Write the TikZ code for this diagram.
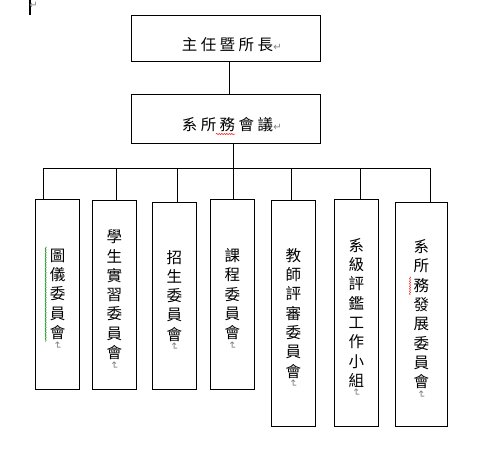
\documentclass[tikz,border=0pt]{standalone}
\usepackage{fontspec}
\newfontfamily\cjk{Noto Sans CJK TC}
\newfontfamily\cjkwide{Noto Sans CJK TC}[LetterSpace=22]
\newfontfamily\retfont{DejaVu Sans}
\usetikzlibrary{positioning, decorations.pathmorphing}

\begin{document}
\begin{tikzpicture}[
  x=1pt, y=1pt,
  unit/.style={
    rectangle,
    draw,
    line width=0.9pt,
    minimum width=#1,
    inner sep=0pt
  },
  vtext/.style={
    font=\cjk\fontsize{15.5}{19.3}\selectfont,
    align=center,
    inner sep=0pt
  },
  htext/.style={
    font=\cjkwide\fontsize{15.5}{17}\selectfont,
    inner sep=0pt
  },
  retmark/.style={
    font=\retfont\fontsize{10}{10}\selectfont,
    text=gray,
    inner sep=0pt
  },
  link/.style={line width=0.9pt},
  spell/.style={
    decorate,
    decoration={snake, amplitude=0.6pt, segment length=2.5pt},
    line width=0.5pt
  }
]
\useasboundingbox (0,0) rectangle (483,-459);

% Word cursor at the top left
\draw[line width=1.6pt] (30,0) -- (30,-14.7);
\node[retmark] (cursor) at (33.5,-5) {↵};

% Head and council
\node[unit=188.6pt, minimum height=46pt] (head) at (226,-38.3) {};
\node[unit=188.6pt, minimum height=49pt] (council) at (226,-118.8) {};
\node[htext] (headtxt) at (227.5,-45) {主任暨所長};
\node[htext] (counciltxt) at (227.5,-125) {系所務會議};
\node[retmark, right=0pt of headtxt.base east, anchor=base west] (headret) {↵};
\node[retmark, right=0pt of counciltxt.base east, anchor=base west] (councilret) {↵};

% Committees
\node[unit=43.6pt, minimum height=190pt] (b1) at (57.5,-294.3) {};
\node[unit=44pt, minimum height=189pt] (b2) at (114.3,-294.8) {};
\node[unit=44pt, minimum height=187pt] (b3) at (174.3,-295.8) {};
\node[unit=44pt, minimum height=190pt] (b4) at (232.3,-294.3) {};
\node[unit=44pt, minimum height=226pt] (b5) at (293.3,-313.3) {};
\node[unit=44pt, minimum height=227pt] (b6) at (356.3,-312.8) {};
\node[unit=52pt, minimum height=224pt] (b7) at (421.3,-314.3) {};

\node[vtext] (t1) at (b1.center) {圖\\儀\\委\\員\\會};
\node[vtext] (t2) at (b2.center) {學\\生\\實\\習\\委\\員\\會};
\node[vtext] (t3) at (b3.center) {招\\生\\委\\員\\會};
\node[vtext] (t4) at (b4.center) {課\\程\\委\\員\\會};
\node[vtext] (t5) at (b5.center) {教\\師\\評\\審\\委\\員\\會};
\node[vtext] (t6) at (b6.center) {系\\級\\評\\鑑\\工\\作\\小\\組};
\node[vtext] (t7) at (b7.center) {系\\所\\務\\發\\展\\委\\員\\會};

\foreach \i in {1,...,7}
  \node[retmark, below=1pt of t\i] (r\i) {\rotatebox{-90}{↵}};

% Connections
\draw[link] ([xshift=3.3pt]head.south) -- ([xshift=3.3pt]head.south |- council.north);
\foreach \i/\x in {1/43.3, 2/116.3, 3/177.3, 4/233.3, 5/291.3, 6/360.7, 7/430.3}
  \coordinate (j\i) at (\x,-168.3);
\draw[link] (j4 |- council.south) -- (j4);
\draw[link] (j1) -- (j7);
\foreach \i in {1,...,7}
  \draw[link] (j\i) -- (j\i |- b\i.north);

% Spelling marks
\draw[spell, green!55!black] (45.7,-246.7) -- (45.7,-341.7);
\draw[spell, red] (216,-134) -- (235,-134);
\draw[spell, red] (410,-276.7) -- (410,-295);
\end{tikzpicture}
\end{document}
